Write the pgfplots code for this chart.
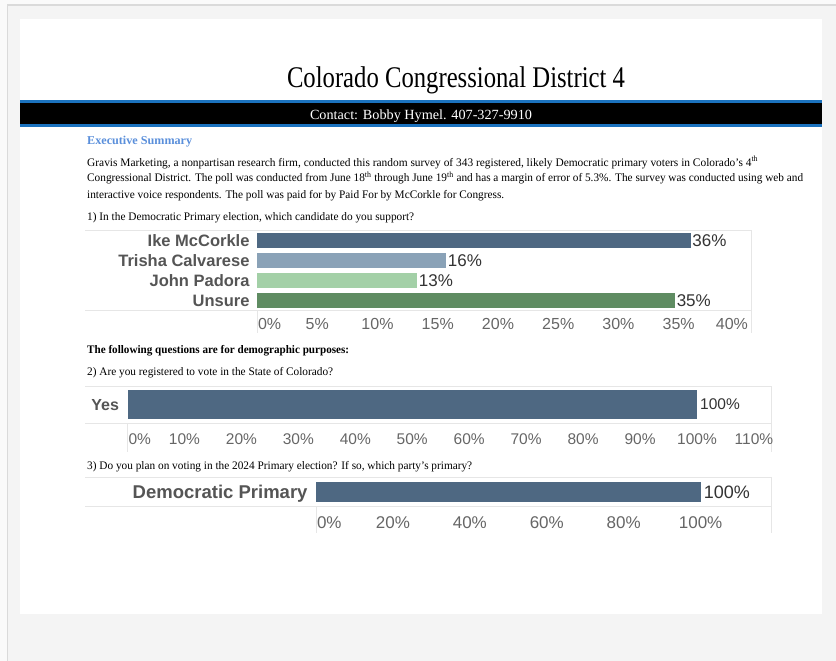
\documentclass[border=0pt]{standalone}
\usepackage{fontspec}
\setmainfont{Liberation Serif}
\newfontfamily\arial{Liberation Sans}
\usepackage{graphicx}
\usepackage{pgfplots}
\pgfplotsset{compat=1.18}

\definecolor{outerbg}{HTML}{FAFAFA}
\definecolor{framec}{HTML}{DADADA}
\definecolor{pagebg}{HTML}{F4F4F4}
\definecolor{bandblue}{HTML}{1B72BE}
\definecolor{execblue}{HTML}{5A8FDB}
\definecolor{barA}{HTML}{4E6882}
\definecolor{barB}{HTML}{8AA2B7}
\definecolor{barC}{HTML}{A3D0A7}
\definecolor{barD}{HTML}{5F8C62}
\definecolor{gridc}{HTML}{E6E6E6}
\definecolor{catc}{HTML}{555555}
\definecolor{valc}{HTML}{333333}
\definecolor{tickc}{HTML}{666666}

% one line of body text, stretched to the width it has in the reference
\newcommand{\bodyline}[4]{\node[anchor=base west,inner sep=0pt] at (#1pt,-#2pt)
  {\resizebox{#3pt}{\height}{\fontsize{11.5}{13}\selectfont #4}};}

\pgfplotsset{
  poll/.style={
    xbar, scale only axis, clip=false, enlargelimits=false,
    axis line style={draw=none}, tick style={draw=none},
    y dir=reverse, anchor=south west,
    point meta=x,
    nodes near coords={\pgfmathprintnumber[fixed,precision=0,assume math mode=true]{\pgfplotspointmeta}\%},
    xticklabel style={anchor=north, inner sep=0pt, text depth=0pt, text=tickc},
    yticklabel style={anchor=east, inner sep=0pt, text depth=0pt, text=catc},
    every node near coord/.append style={anchor=west, text=valc, text depth=0pt},
  },
  cbar/.style={fill=#1, draw=none, bar shift=0pt},
}

\begin{document}
\begin{tikzpicture}
\path[use as bounding box] (0,0) rectangle (836pt,-661pt);
\fill[outerbg] (0,0) rectangle (836pt,-661pt);
\fill[framec] (6.5pt,-4.5pt) rectangle (836pt,-661pt);
\fill[pagebg] (8pt,-6pt) rectangle (836pt,-661pt);
\fill[white] (20pt,-19pt) rectangle (822pt,-614pt);

% header
\node[anchor=base,inner sep=0pt] at (456pt,-87pt)
  {\resizebox{338pt}{\height}{\fontsize{30}{32}\selectfont Colorado Congressional District 4}};
\fill[bandblue] (20pt,-100.5pt) rectangle (822pt,-127pt);
\fill[black] (20pt,-103pt) rectangle (822pt,-124pt);
\node[anchor=base,inner sep=0pt,text=white] at (421pt,-119.5pt)
  {\resizebox{222pt}{\height}{\fontsize{14}{16}\selectfont Contact: Bobby Hymel. 407-327-9910}};

\node[anchor=base west,inner sep=0pt,text=execblue] at (87pt,-144pt)
  {\resizebox{105pt}{\height}{\fontsize{12}{14}\selectfont\bfseries Executive Summary}};
\bodyline{87}{166}{671}{Gravis Marketing, a nonpartisan research firm, conducted this random survey of 343 registered, likely Democratic primary voters in Colorado’s 4\textsuperscript{th}}
\bodyline{87}{182}{716}{Congressional District. The poll was conducted from June 18\textsuperscript{th} through June 19\textsuperscript{th} and has a margin of error of 5.3\%. The survey was conducted using web and}
\bodyline{87}{198}{417}{interactive voice respondents. The poll was paid for by Paid For by McCorkle for Congress.}
\bodyline{87}{220}{327}{1) In the Democratic Primary election, which candidate do you support?}
\bodyline{87}{353}{262}{\bfseries The following questions are for demographic purposes:}
\bodyline{87}{375}{246}{2) Are you registered to vote in the State of Colorado?}
\bodyline{87}{469}{385}{3) Do you plan on voting in the 2024 Primary election? If so, which party’s primary?}

% frame lines of the three charts
\begin{scope}[draw=gridc, line width=1pt]
\draw (85pt,-230pt) -- (751pt,-230pt);
\draw (85pt,-310.5pt) -- (751pt,-310.5pt);
\draw (257pt,-310.5pt) -- (257pt,-333pt);
\draw (751pt,-230pt) -- (751pt,-333pt);
\draw (85pt,-386pt) -- (771pt,-386pt);
\draw (85pt,-423pt) -- (771pt,-423pt);
\draw (127.5pt,-423pt) -- (127.5pt,-452pt);
\draw (771pt,-386pt) -- (771pt,-452pt);
\draw (85pt,-477pt) -- (771pt,-477pt);
\draw (85pt,-506.5pt) -- (771pt,-506.5pt);
\draw (316pt,-506.5pt) -- (316pt,-533pt);
\draw (771pt,-477pt) -- (771pt,-533pt);
\end{scope}

% 1) candidate support
\begin{axis}[poll,
  at={(257pt,-310.5pt)}, width=494pt, height=80.5pt,
  xmin=0, xmax=41, ymin=-0.5, ymax=3.5, bar width=15pt,
  xtick={0,5,...,40},
  xticklabels={{\makebox[0pt][l]{\kern1pt 0\%}},5\%,10\%,15\%,20\%,25\%,30\%,35\%,{\makebox[0pt]{\kern-14pt 40\%}}},
  ytick={0,1,2,3},
  yticklabels={Ike McCorkle,Trisha Calvarese,John Padora,Unsure},
  xticklabel style={font=\arial\fontsize{16}{18}\selectfont, yshift=-7.5pt},
  yticklabel style={font=\arial\bfseries\fontsize{16.5}{18}\selectfont, xshift=-3pt},
  every node near coord/.append style={font=\arial\fontsize{17}{19}\selectfont, inner sep=1.5pt},
]
\addplot[cbar=barA] coordinates {(36,0)};
\addplot[cbar=barB] coordinates {(15.7,1)};
\addplot[cbar=barC] coordinates {(13.3,2)};
\addplot[cbar=barD] coordinates {(34.7,3)};
\end{axis}

% 2) registered
\begin{axis}[poll,
  at={(127.5pt,-423pt)}, width=643.5pt, height=37pt,
  xmin=0, xmax=113, ymin=-0.5, ymax=0.5, bar width=29pt,
  xtick={0,10,...,110},
  xticklabels={{\makebox[0pt][l]{\kern1pt 0\%}},10\%,20\%,30\%,40\%,50\%,60\%,70\%,80\%,90\%,100\%,110\%},
  ytick={0}, yticklabels={Yes},
  xticklabel style={font=\arial\fontsize{15.5}{18}\selectfont, yshift=-10.5pt},
  yticklabel style={font=\arial\bfseries\fontsize{16}{18}\selectfont, xshift=-4pt},
  every node near coord/.append style={font=\arial\fontsize{15.5}{18}\selectfont, inner sep=3pt},
]
\addplot[cbar=barA] coordinates {(100,0)};
\end{axis}

% 3) primary
\begin{axis}[poll,
  at={(316pt,-506.5pt)}, width=455pt, height=29.5pt,
  xmin=0, xmax=118.3, ymin=-0.5, ymax=0.5, bar width=20pt,
  xtick={0,20,...,100},
  xticklabels={{\makebox[0pt][l]{\kern1pt 0\%}},20\%,40\%,60\%,80\%,100\%},
  ytick={0}, yticklabels={Democratic Primary},
  xticklabel style={font=\arial\fontsize{17}{19}\selectfont, yshift=-10pt},
  yticklabel style={font=\arial\bfseries\fontsize{18.5}{21}\selectfont, xshift=-4pt},
  every node near coord/.append style={font=\arial\fontsize{18}{20}\selectfont, inner sep=3pt},
]
\addplot[cbar=barA] coordinates {(100,0)};
\end{axis}
\end{tikzpicture}
\end{document}
